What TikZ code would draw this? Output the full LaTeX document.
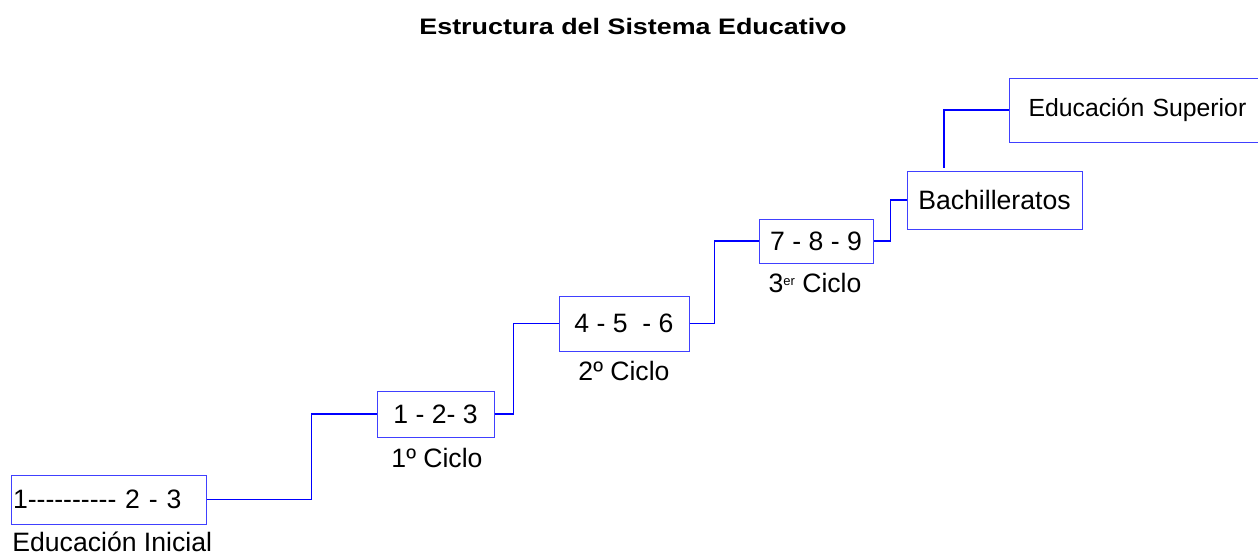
\documentclass[tikz,border=0pt]{standalone}
\usepackage{fontspec}
\setmainfont{Liberation Sans}[Ligatures=TeXOff]
\usepackage{tikz}

\tikzset{
  box/.style={draw=blue!75,line width=0.5pt,inner sep=0pt,font=\fontsize{13.3}{16}\selectfont},
  lbl/.style={inner sep=0pt,font=\fontsize{13.3}{16}\selectfont},
  link/.style={draw=blue,line width=0.6pt}
}

\begin{document}
\begin{tikzpicture}[x=0.5pt,y=-0.5pt]
    \useasboundingbox (0,0) rectangle (1258,554);
    % Title
    \node[anchor=base,inner sep=0pt,font=\bfseries\fontsize{11.2}{14}\selectfont] (title) at (633,34.7)
        {\scalebox{1.2}[1]{Estructura del Sistema Educativo}};
    % Steps
    \node[box,minimum width=97.5pt,minimum height=24.5pt,text width=95.5pt,align=left] (ini) at (108.5,499.5) {1---------- 2 - 3};
    \node[box,minimum width=58.5pt,minimum height=23pt] (ciclo1) at (435.5,414) {1 - 2- 3};
    \node[box,minimum width=65pt,minimum height=27.5pt] (ciclo2) at (624,323.5) {4 - 5~ - 6};
    \node[box,minimum width=57pt,minimum height=22pt] (ciclo3) at (816,241) {7 - 8 - 9};
    \node[box,minimum width=87.5pt,minimum height=29pt] (bach) at (994.5,200) {Bachilleratos};
    \node[box,anchor=west,minimum height=32pt,text width=121pt,inner xsep=9.5pt,align=left,
          font=\fontsize{12.4}{15}\selectfont] (sup) at (1009,110) {Educación Superior};
    % Labels
    \node[lbl,anchor=base west] (iniLbl) at (12,551) {Educación Inicial};
    \node[lbl,anchor=base] (ciclo1Lbl) at (437,467) {1º Ciclo};
    \node[lbl,anchor=base] (ciclo2Lbl) at (624,380) {2º Ciclo};
    \node[lbl,anchor=base] (ciclo3Lbl) at (815,292) {3\raisebox{3.5pt}{\fontsize{6.5}{7}\selectfont er} Ciclo};
    % Connectors
    \draw[link] (ini.east) -- ++(105,0) |- (ciclo1.west);
    \draw[link] (ciclo1.east) -- ++(19,0) |- (ciclo2.west);
    \draw[link] (ciclo2.east) -- ++(25,0) |- (ciclo3.west);
    \draw[link] (ciclo3.east) -- ++(17,0) |- (bach.west);
    \draw[link] ([shift={(-50.5,-3)}]bach.north) |- (sup.west);
\end{tikzpicture}
\end{document}
